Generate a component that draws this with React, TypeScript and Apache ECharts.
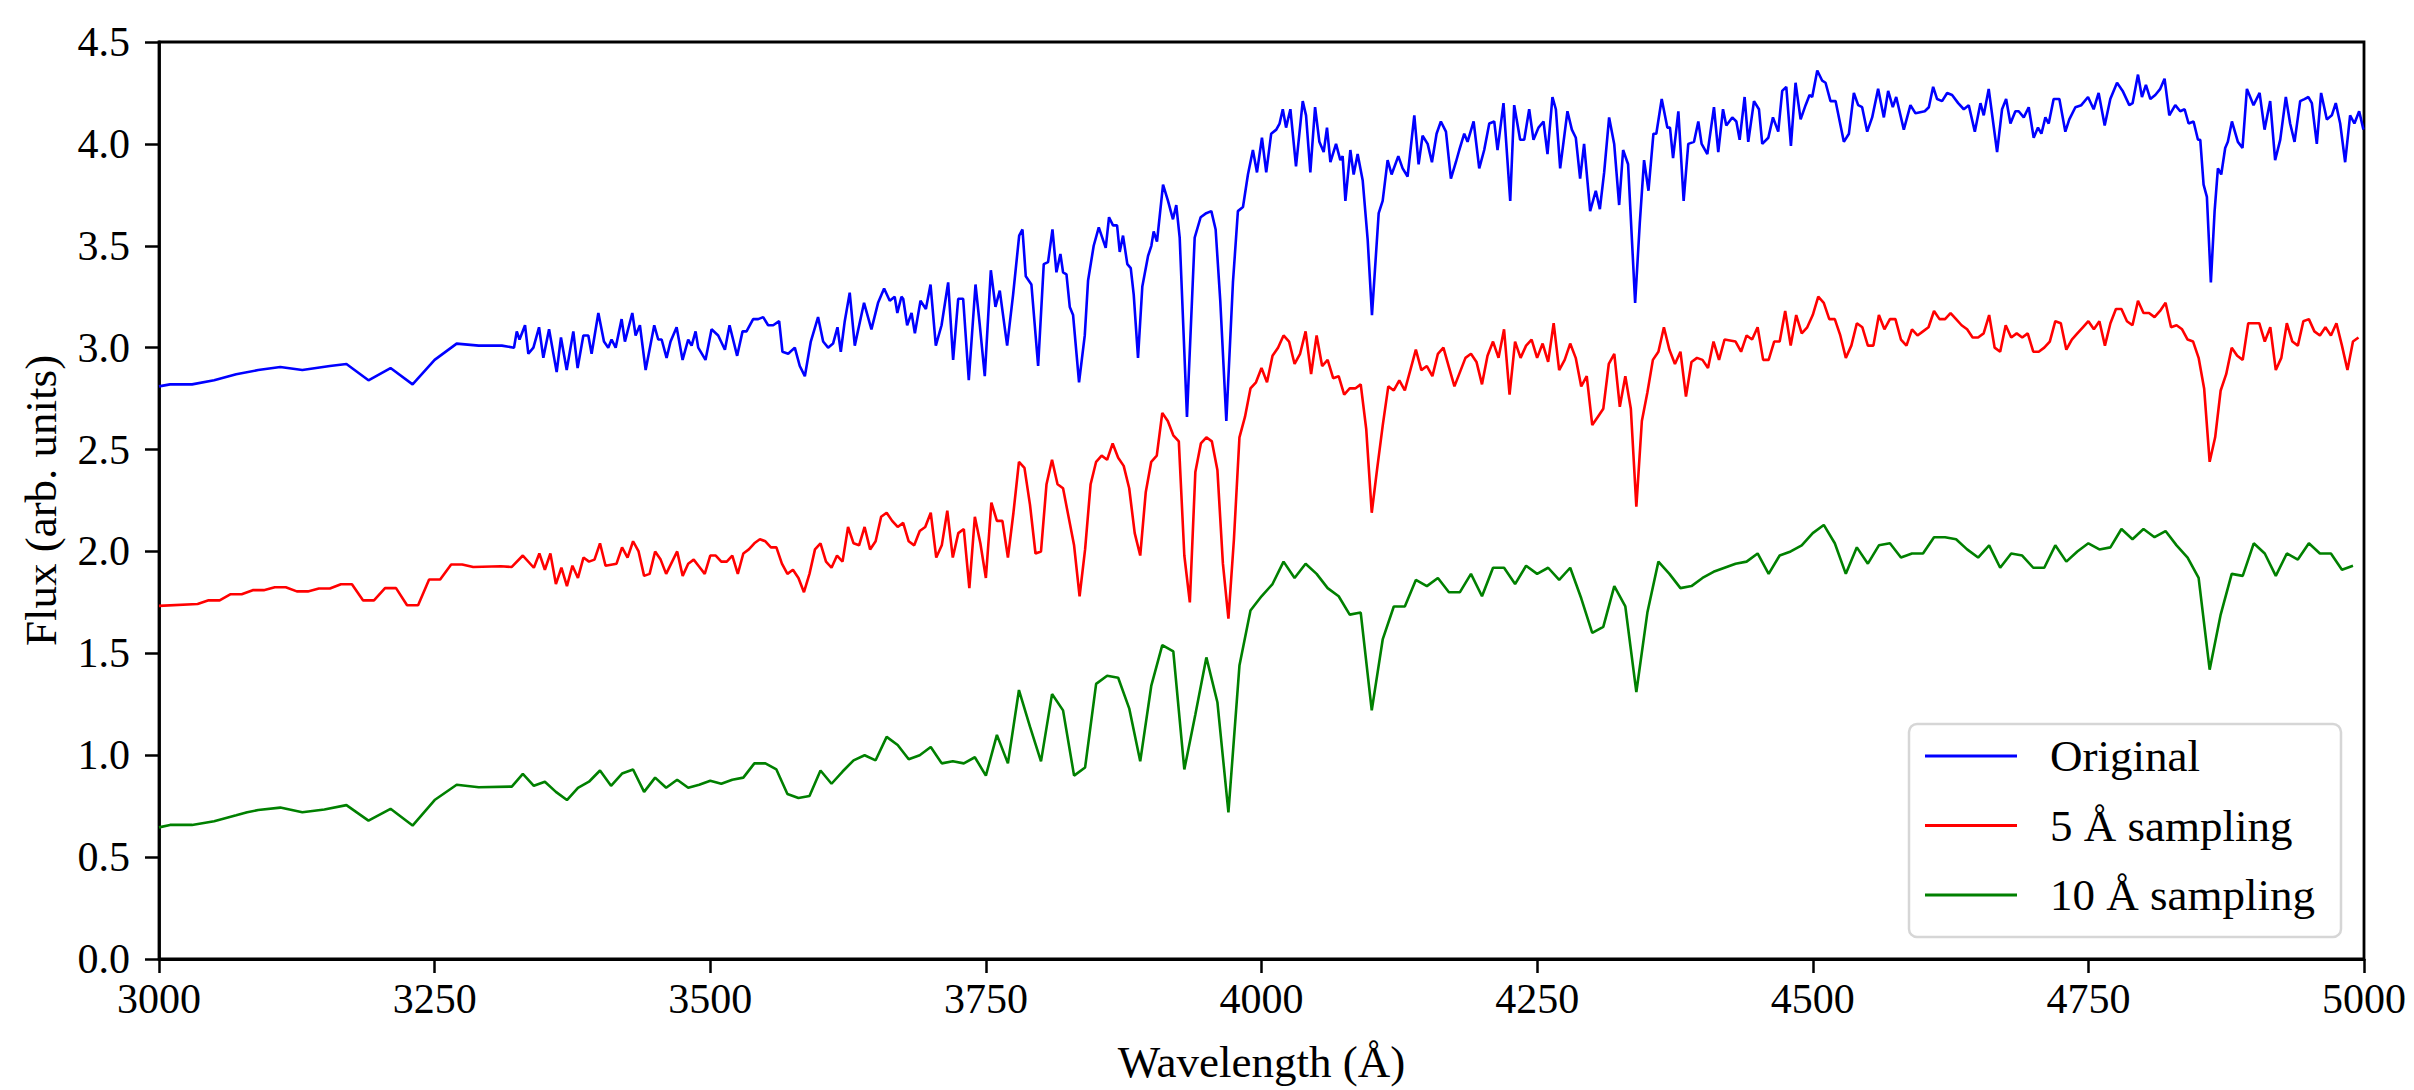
import React, { useEffect, useRef } from "react";
import * as echarts from "echarts";

// Original spectrum (wavelength in Å, flux in arb. units)
const origWave = [
  3000, 3010, 3030, 3050, 3070, 3090, 3110, 3130, 3155, 3170, 3190, 3210, 3230, 3250, 3270, 3290, 3311, 3322, 3324.5, 3327,
  3332, 3335, 3339.6, 3344.7, 3348.6, 3353.8, 3360.7, 3364.6, 3369.8, 3375.8, 3379.7, 3384.9, 3389.4, 3392.4, 3398.5, 3403.6, 3407.5, 3410.5, 3414.2, 3419.6,
  3422.6, 3429.3, 3432.3, 3436.2, 3441.4, 3449.2, 3452.8, 3455.9, 3460.4, 3464.0, 3469.5, 3474.9, 3480.0, 3483.1, 3486.7, 3489.1, 3495.7, 3501.2, 3507.2, 3513.3,
  3517.5, 3524.4, 3529.3, 3532.9, 3538.9, 3543.5, 3548.0, 3552.5, 3557.1, 3562.5, 3565.5, 3570.7, 3576.7, 3581.2, 3585.8, 3591.2, 3597.8, 3602.4, 3606.9, 3611.4,
  3615.4, 3618.4, 3622.0, 3626.5, 3631.1, 3639.5, 3646.2, 3652.2, 3657.7, 3662.8, 3667.3, 3669.7, 3673.4,
  3675.0, 3678.6, 3682.6, 3685.6, 3690.7, 3695.6, 3699.8, 3704.6, 3709.8, 3715.8, 3720.3, 3724.9, 3729.4, 3734.5, 3740.6, 3744.5, 3749.0, 3754.5, 3758.7, 3762.6,
  3769.3, 3774.7, 3780.2, 3783.2, 3786.2, 3791.3, 3797.4, 3802.5, 3806.4, 3810.4, 3814.0, 3817.6, 3820.0, 3823.1, 3826.1, 3829.1, 3834.5, 3839.7, 3842.7, 3847.8,
  3852.4, 3858.7, 3861.7, 3865.3, 3869.0, 3871.4, 3874.4, 3878.3, 3881.4, 3884.1, 3888.0, 3891.9, 3897.1, 3900.1, 3902.2, 3905.2, 3910.7, 3915.2, 3919.7, 3922.7,
  3925.8, 3932.4, 3939.4, 3944.8, 3949.9, 3954.5, 3958.4, 3962.6, 3968.1, 3974.1, 3978.6, 3983.2, 3987.7, 3992.2, 3995.9, 4000.4, 4004.3, 4008.8, 4013.4, 4016.4,
  4019.3, 4022.3, 4026.2, 4031.3, 4037.4, 4040.4, 4044.3, 4048.6, 4052.5, 4056.4, 4059.4, 4062.5, 4067.6, 4071.5, 4073.6, 4076.1, 4080.6, 4083.6, 4087.2, 4091.8,
  4096.3, 4100.2, 4106.3, 4109.9, 4114.4, 4118.0, 4124.1, 4128.0, 4132.5, 4138.6, 4142.5, 4146.1, 4150.7, 4154.6, 4158.8, 4162.7, 4167.3, 4171.8, 4176.3, 4179.4,
  4183.9, 4186.9, 4192.4, 4197.5, 4202.0, 4206.6, 4211.1, 4214.1, 4219.5, 4225.6, 4229.2, 4234.6, 4238.3, 4242.8, 4246.7, 4251.3, 4255.8, 4259.4, 4263.9, 4267.0,
  4270.9, 4277.5, 4281.5, 4285.1, 4289.0, 4292.6, 4298.1, 4303.2, 4306.9, 4310.8, 4315.3, 4319.9, 4324.4, 4328.0, 4332.5, 4338.9, 4343.1, 4347.0, 4351.0, 4355.5,
  4358.1, 4363.0, 4368.1, 4370.5, 4373.3, 4378.1, 4382.9, 4387.1, 4392.3, 4396.2, 4399.2, 4404.4, 4410.4, 4414.3, 4418.6, 4421.6, 4427.0, 4430.7, 4433.7, 4438.2,
  4441.5, 4446.7, 4451.2, 4454.2, 4459.7, 4463.9, 4468.7, 4472.3, 4476.0, 4480.2, 4484.4, 4489.0, 4493.5, 4497.1, 4499.5, 4504.1, 4508.6, 4511.6, 4516.1, 4520.7,
  4528.2, 4532.8, 4537.3, 4541.2, 4544.8, 4549.4, 4553.9, 4559.3, 4564.5, 4568.4, 4572.6, 4575.7, 4582.6, 4588.6, 4593.2, 4601.6, 4605.3, 4609.2, 4612.8, 4617.3,
  4621.9, 4626.4, 4631.9, 4637.0, 4641.5, 4647.0, 4652.1, 4655.1, 4659.6, 4667.2, 4671.7, 4675.4, 4679.3, 4683.8, 4686.8, 4691.4, 4695.9,
  4700.4, 4704.3, 4707.4, 4711.0, 4714.0, 4718.5, 4723.7, 4729.1, 4732.7, 4738.2, 4743.6, 4749.7, 4754.8, 4759.3, 4764.8, 4769.9, 4776.0, 4781.1, 4787.1, 4790.1,
  4795.0, 4798.6, 4802.2, 4806.2, 4810.7, 4815.2, 4819.1, 4823.4, 4828.8, 4833.3, 4837.3, 4840.9, 4845.4, 4849.4, 4851.5, 4854.5, 4857.5, 4861.1, 4864.5, 4867.5,
  4870.5, 4874.1, 4876.5, 4880.2, 4885.6, 4889.8, 4893.8, 4899.8, 4905.3, 4909.8, 4914.9, 4919.4, 4924.0, 4929.1, 4933.0, 4937.0, 4942.1, 4946.0, 4949.6, 4952.7,
  4957.2, 4961.1, 4966.3, 4970.8, 4974.4, 4978.4, 4982.9, 4987.4, 4991.3, 4995.6, 4999.5,
];
const origFlux = [
  2.81, 2.82, 2.82, 2.84, 2.87, 2.89, 2.905, 2.89, 2.91, 2.92, 2.84, 2.9, 2.82, 2.94, 3.02, 3.01, 3.01, 3.0, 3.08, 3.04,
  3.11, 2.97, 3.0, 3.1, 2.95, 3.09, 2.88, 3.05, 2.89, 3.08, 2.9, 3.06, 3.06, 2.97, 3.17, 3.03, 3.0, 3.04, 3.0, 3.14,
  3.03, 3.17, 3.06, 3.11, 2.89, 3.11, 3.04, 3.04, 2.95, 3.03, 3.1, 2.94, 3.04, 3.01, 3.08, 3.0, 2.94, 3.09, 3.06, 2.99,
  3.11, 2.96, 3.08, 3.08, 3.14, 3.14, 3.15, 3.11, 3.11, 3.13, 2.98, 2.97, 3.0, 2.91, 2.86, 3.03, 3.15, 3.03, 3.0, 3.02,
  3.1, 2.98, 3.13, 3.27, 3.01, 3.22, 3.09, 3.22, 3.29, 3.23, 3.25, 3.17, 3.25,
  3.24, 3.11, 3.17, 3.07, 3.23, 3.19, 3.31, 3.01, 3.11, 3.32, 2.94, 3.24, 3.24, 2.84, 3.31, 3.11, 2.86, 3.38, 3.2, 3.28,
  3.01, 3.26, 3.55, 3.58, 3.35, 3.31, 2.91, 3.41, 3.42, 3.58, 3.37, 3.46, 3.37, 3.36, 3.2, 3.16, 2.83, 3.06, 3.33, 3.5,
  3.59, 3.49, 3.64, 3.6, 3.6, 3.47, 3.55, 3.41, 3.39, 3.26, 2.95, 3.3, 3.45, 3.5, 3.57, 3.52, 3.8, 3.72, 3.63, 3.7,
  3.54, 2.66, 3.54, 3.64, 3.66, 3.67, 3.58, 3.23, 2.64, 3.32, 3.67, 3.69, 3.85, 3.97, 3.86, 4.03, 3.86, 4.05, 4.07, 4.1,
  4.17, 4.08, 4.17, 3.89, 4.21, 4.14, 3.86, 4.18, 4.01, 3.96, 4.08, 3.91, 4.0, 3.92, 3.94, 3.72, 3.97, 3.85, 3.95, 3.82,
  3.53, 3.16, 3.66, 3.72, 3.92, 3.85, 3.94, 3.88, 3.84, 4.14, 3.9, 4.04, 4.0, 3.91, 4.05, 4.11, 4.06, 3.83, 3.91, 3.97,
  4.05, 4.01, 4.11, 3.88, 3.97, 4.1, 4.11, 3.97, 4.2, 3.72, 4.19, 4.02, 4.02, 4.17, 4.02, 4.08, 4.11, 3.95, 4.23, 4.17,
  3.88, 4.16, 4.07, 4.03, 3.83, 4.0, 3.67, 3.77, 3.68, 3.86, 4.13, 4.0, 3.7, 3.97, 3.9, 3.22, 3.61, 3.92, 3.77, 4.05,
  4.05, 4.22, 4.08, 4.08, 3.93, 4.16, 3.72, 4.0, 4.01, 4.11, 4.0, 3.95, 4.18, 3.96, 4.17, 4.09, 4.13, 4.11, 4.02, 4.23,
  4.01, 4.21, 4.17, 4.0, 4.03, 4.13, 4.06, 4.26, 4.28, 3.99, 4.3, 4.12, 4.19, 4.24, 4.23, 4.36, 4.31, 4.3, 4.21, 4.21,
  4.01, 4.05, 4.25, 4.19, 4.18, 4.06, 4.13, 4.27, 4.13, 4.26, 4.18, 4.23, 4.07, 4.19, 4.15, 4.16, 4.18, 4.28, 4.22, 4.21,
  4.25, 4.24, 4.2, 4.17, 4.19, 4.06, 4.2, 4.14, 4.27, 3.96, 4.17, 4.22, 4.1, 4.16, 4.16, 4.13, 4.18,
  4.03, 4.08, 4.05, 4.13, 4.1, 4.22, 4.22, 4.06, 4.12, 4.18, 4.19, 4.23, 4.17, 4.25, 4.09, 4.22, 4.3, 4.26, 4.19, 4.2,
  4.34, 4.23, 4.29, 4.22, 4.24, 4.27, 4.32, 4.14, 4.19, 4.16, 4.17, 4.1, 4.11, 4.02, 4.02, 3.8, 3.74, 3.32, 3.67, 3.88,
  3.85, 3.98, 4.01, 4.11, 4.01, 3.98, 4.27, 4.19, 4.25, 4.07, 4.21, 3.92, 4.02, 4.23, 4.1, 4.01, 4.21, 4.22, 4.23, 4.2,
  4.0, 4.25, 4.12, 4.14, 4.2, 4.1, 3.91, 4.14, 4.1, 4.16, 4.07,
];

// 5 Å sampling
const s5Wave = [
  3000, 3035, 3045, 3055, 3065, 3075, 3085, 3095, 3105, 3115, 3125, 3135, 3145, 3155, 3165, 3175, 3185, 3195, 3205, 3215,
  3225, 3235, 3245, 3255, 3265, 3275, 3285, 3310, 3320, 3330,
  3340, 3345, 3350, 3355, 3360, 3365, 3370, 3375, 3380, 3385, 3390, 3395, 3400, 3405, 3410, 3415, 3420, 3425, 3430, 3435,
  3440, 3445, 3450, 3455, 3460, 3465, 3470, 3475, 3480, 3485, 3490, 3495, 3500, 3505, 3510, 3515, 3520, 3525, 3530, 3535,
  3540, 3545, 3550, 3555, 3560, 3565, 3570, 3575, 3580, 3585, 3590, 3595, 3600, 3605, 3610, 3615, 3620, 3625, 3630, 3635,
  3640, 3645, 3650, 3655, 3660, 3665, 3670, 3675, 3680, 3685, 3690, 3695, 3700, 3705, 3710, 3715, 3720, 3725, 3730, 3735,
  3740, 3745, 3750, 3755, 3760, 3765, 3770, 3775, 3780, 3785, 3790, 3795, 3800, 3805, 3810, 3815, 3820, 3825, 3830, 3835,
  3840, 3845, 3850, 3855, 3860, 3865, 3870, 3875, 3880, 3885, 3890, 3895, 3900, 3905, 3910, 3915, 3920, 3925, 3930, 3935,
  3940, 3945, 3950, 3955, 3960, 3965, 3970, 3975, 3980, 3985, 3990, 3995, 4000, 4005, 4010, 4015, 4020, 4025, 4030, 4035,
  4040, 4045, 4050, 4055, 4060, 4065, 4070, 4075, 4080, 4085, 4090, 4095, 4100, 4105, 4110, 4115, 4120, 4125, 4130, 4135,
  4140, 4145, 4150, 4155, 4160, 4165, 4170, 4175, 4180, 4185, 4190, 4195, 4200, 4205, 4210, 4215, 4220, 4225, 4230, 4235,
  4240, 4245, 4250, 4255, 4260, 4265, 4270, 4275, 4280, 4285, 4290, 4295, 4300, 4305, 4310, 4315, 4320, 4325, 4330, 4335,
  4340, 4345, 4350, 4355, 4360, 4365, 4370, 4375, 4380, 4385, 4390, 4395, 4400, 4405, 4410, 4415, 4420, 4425, 4430, 4435,
  4440, 4445, 4450, 4455, 4460, 4465, 4470, 4475, 4480, 4485, 4490, 4495, 4500, 4505, 4510, 4515, 4520, 4525, 4530, 4535,
  4540, 4545, 4550, 4555, 4560, 4565, 4570, 4575, 4580, 4585, 4590, 4595, 4600, 4605, 4610, 4615, 4620, 4625, 4630, 4635,
  4640, 4645, 4650, 4655, 4660, 4665, 4670, 4675, 4680, 4685, 4690, 4695, 4700, 4705, 4710, 4715, 4720, 4725, 4730, 4735,
  4740, 4745, 4750, 4755, 4760, 4765, 4770, 4775, 4780, 4785, 4790, 4795, 4800, 4805, 4810, 4815, 4820, 4825, 4830, 4835,
  4840, 4845, 4850, 4855, 4860, 4865, 4870, 4875, 4880, 4885, 4890, 4895, 4900, 4905, 4910, 4915, 4920, 4925, 4930, 4935,
  4940, 4945, 4950, 4955, 4960, 4965, 4970, 4975, 4980, 4985, 4990, 4995,
];
const s5Flux = [
  1.733, 1.742, 1.76, 1.76, 1.79, 1.79, 1.81, 1.81, 1.824, 1.824, 1.804, 1.804, 1.818, 1.818, 1.839, 1.839, 1.76, 1.76, 1.82, 1.82,
  1.736, 1.736, 1.862, 1.862, 1.936, 1.936, 1.924, 1.927, 1.924, 1.98,
  1.92, 1.99, 1.91, 1.99, 1.84, 1.92, 1.83, 1.93, 1.87, 1.97, 1.95, 1.96, 2.04, 1.93, 1.935, 1.94, 2.02, 1.97, 2.05, 2.0,
  1.88, 1.89, 2.0, 1.96, 1.89, 1.945, 2.0, 1.88, 1.94, 1.96, 1.925, 1.89, 1.98, 1.98, 1.95, 1.95, 1.98, 1.89, 1.99, 2.01,
  2.04, 2.06, 2.05, 2.02, 2.02, 1.94, 1.89, 1.91, 1.87, 1.8, 1.89, 2.01, 2.04, 1.95, 1.92, 1.98, 1.95, 2.12, 2.04, 2.03,
  2.12, 2.01, 2.05, 2.17, 2.19, 2.15, 2.12, 2.14, 2.05, 2.03, 2.1, 2.12, 2.19, 1.97, 2.03, 2.2, 1.97, 2.09, 2.11, 1.82,
  2.17, 2.04, 1.87, 2.24, 2.15, 2.15, 1.97, 2.19, 2.44, 2.41, 2.23, 1.99, 2.0, 2.33, 2.45, 2.33, 2.31, 2.17, 2.03, 1.78,
  2.01, 2.33, 2.44, 2.47, 2.45, 2.53, 2.46, 2.42, 2.31, 2.09, 1.98, 2.29, 2.44, 2.47, 2.68, 2.64, 2.57, 2.54, 1.98, 1.75,
  2.39, 2.53, 2.56, 2.54, 2.4, 1.94, 1.67, 2.06, 2.56, 2.66, 2.8, 2.83, 2.9, 2.83, 2.96, 3.0, 3.06, 3.03, 2.92, 2.97,
  3.08, 2.87, 3.06, 2.91, 2.94, 2.85, 2.86, 2.77, 2.8, 2.8, 2.82, 2.6, 2.19, 2.41, 2.62, 2.81, 2.79, 2.84, 2.79, 2.89,
  2.99, 2.89, 2.91, 2.86, 2.97, 3.0, 2.905, 2.81, 2.88, 2.95, 2.97, 2.93, 2.82, 2.96, 3.03, 2.95, 3.09, 2.77, 3.03, 2.95,
  3.01, 3.04, 2.95, 3.02, 2.93, 3.12, 2.89, 2.94, 3.02, 2.95, 2.81, 2.86, 2.62, 2.66, 2.7, 2.92, 2.97, 2.71, 2.86, 2.7,
  2.22, 2.64, 2.78, 2.94, 2.98, 3.1, 2.99, 2.92, 2.98, 2.76, 2.93, 2.95, 2.94, 2.9, 3.03, 2.94, 3.04, 3.035, 3.03, 2.98,
  3.06, 3.04, 3.1, 2.94, 2.94, 3.03, 3.03, 3.18, 3.01, 3.16, 3.07, 3.1, 3.16, 3.25, 3.22, 3.14, 3.14, 3.06, 2.95, 3.01,
  3.12, 3.1, 3.01, 3.01, 3.16, 3.09, 3.14, 3.14, 3.04, 3.01, 3.09, 3.06, 3.08, 3.1, 3.18, 3.14, 3.14, 3.17, 3.14, 3.11,
  3.09, 3.05, 3.05, 3.07, 3.16, 3.0, 2.98, 3.11, 3.05, 3.07, 3.05, 3.07, 2.98, 2.98, 3.0, 3.03, 3.13, 3.12, 2.99, 3.04,
  3.07, 3.1, 3.13, 3.09, 3.13, 3.01, 3.12, 3.19, 3.19, 3.13, 3.11, 3.23, 3.17, 3.17, 3.15, 3.18, 3.22, 3.1, 3.11, 3.09,
  3.04, 3.03, 2.95, 2.8, 2.44, 2.56, 2.79, 2.87, 3.0, 2.96, 2.94, 3.12, 3.12, 3.12, 3.03, 3.1, 2.89, 2.95, 3.12, 3.03,
  3.01, 3.13, 3.14, 3.08, 3.06, 3.1, 3.06, 3.12, 3.01, 2.89, 3.03, 3.05,
];

// 10 Å sampling
const s10Wave = [
  3000, 3010, 3030, 3050, 3070, 3080, 3090, 3110, 3130, 3150, 3170, 3190, 3210, 3230, 3250, 3270, 3290, 3320, 3330,
  3340, 3350, 3360, 3370, 3380, 3390, 3400, 3410, 3420, 3430, 3440, 3450, 3460, 3470, 3480, 3490, 3500, 3510, 3520, 3530,
  3540, 3550, 3560, 3570, 3580, 3590, 3600, 3610, 3620, 3630, 3640, 3650, 3660, 3670, 3680, 3690, 3700, 3710, 3720, 3730,
  3740, 3750, 3760, 3770, 3780, 3790, 3800, 3810, 3820, 3830, 3840, 3850, 3860, 3870, 3880, 3890, 3900, 3910, 3920, 3930,
  3940, 3950, 3960, 3970, 3980, 3990, 4000, 4010, 4020, 4030, 4040, 4050, 4060, 4070, 4080, 4090, 4100, 4110, 4120, 4130,
  4140, 4150, 4160, 4170, 4180, 4190, 4200, 4210, 4220, 4230, 4240, 4250, 4260, 4270, 4280, 4290, 4300, 4310, 4320, 4330,
  4340, 4350, 4360, 4370, 4380, 4390, 4400, 4410, 4420, 4430, 4440, 4450, 4460, 4470, 4480, 4490, 4500, 4510, 4520, 4530,
  4540, 4550, 4560, 4570, 4580, 4590, 4600, 4610, 4620, 4630, 4640, 4650, 4660, 4670, 4680, 4690, 4700, 4710, 4720, 4730,
  4740, 4750, 4760, 4770, 4780, 4790, 4800, 4810, 4820, 4830, 4840, 4850, 4860, 4870, 4880, 4890, 4900, 4910, 4920, 4930,
  4940, 4950, 4960, 4970, 4980, 4990,
];
const s10Flux = [
  0.646, 0.658, 0.658, 0.676, 0.705, 0.72, 0.731, 0.743, 0.72, 0.734, 0.755, 0.679, 0.737, 0.655, 0.78, 0.855, 0.843, 0.846, 0.908,
  0.85, 0.87, 0.82, 0.78, 0.84, 0.87, 0.925, 0.85, 0.91, 0.93, 0.82, 0.89, 0.84, 0.88, 0.84, 0.855, 0.875, 0.86, 0.88, 0.89,
  0.96, 0.96, 0.93, 0.81, 0.79, 0.8, 0.925, 0.86, 0.92, 0.975, 1.0, 0.975, 1.09, 1.05, 0.98, 1.0, 1.04, 0.96, 0.97, 0.96,
  0.99, 0.9, 1.1, 0.96, 1.32, 1.14, 0.97, 1.3, 1.22, 0.9, 0.94, 1.35, 1.39, 1.38, 1.23, 0.97, 1.34, 1.54, 1.51, 0.93,
  1.2, 1.48, 1.26, 0.72, 1.44, 1.71, 1.78, 1.84, 1.95, 1.87, 1.94, 1.89, 1.82, 1.78, 1.69, 1.7, 1.22, 1.57, 1.73, 1.73,
  1.86, 1.83, 1.87, 1.8, 1.8, 1.89, 1.78, 1.92, 1.92, 1.84, 1.93, 1.89, 1.92, 1.86, 1.92, 1.77, 1.6, 1.63, 1.83, 1.73,
  1.31, 1.7, 1.95, 1.89, 1.82, 1.83, 1.87, 1.9, 1.92, 1.94, 1.95, 1.99, 1.89, 1.98, 2.0, 2.03, 2.09, 2.13, 2.04, 1.89,
  2.02, 1.94, 2.03, 2.04, 1.97, 1.99, 1.99, 2.07, 2.07, 2.06, 2.01, 1.97, 2.03, 1.92, 1.99, 1.98, 1.92, 1.92, 2.03, 1.95,
  2.0, 2.04, 2.01, 2.02, 2.11, 2.06, 2.11, 2.07, 2.1, 2.03, 1.97, 1.87, 1.42, 1.69, 1.89, 1.88, 2.04, 1.99, 1.88, 1.99,
  1.96, 2.04, 1.99, 1.99, 1.91, 1.93,
];

const seriesNames = ["Original", "5 Å sampling", "10 Å sampling"];
const seriesColors = ["#0000ff", "#ff0000", "#008000"];

const FONT = "Liberation Serif, DejaVu Serif, serif";

function pairs(w: number[], f: number[]) {
  const n = Math.min(w.length, f.length);
  const out: number[][] = [];
  for (let i = 0; i < n; i++) out.push([w[i], f[i]]);
  return out;
}

export default function App() {
  const ref = useRef<HTMLDivElement>(null);
  useEffect(() => {
    document.body.style.margin = "0";
    const chart = echarts.init(ref.current!, null, { renderer: "svg", width: 2414, height: 1090 });
    const datasets = [pairs(origWave, origFlux), pairs(s5Wave, s5Flux), pairs(s10Wave, s10Flux)];
    chart.setOption({
      animation: false,
      backgroundColor: "#ffffff",
      textStyle: { fontFamily: FONT },
      grid: {
        left: 159,
        right: 50,
        top: 42,
        bottom: 131,
        show: true,
        borderColor: "#000",
        borderWidth: 2.8,
        backgroundColor: "transparent",
      },
      legend: {
        orient: "vertical",
        left: 1909,
        top: 724,
        data: seriesNames,
        icon: "rect",
        itemWidth: 92,
        itemHeight: 3,
        itemGap: 19.5,
        padding: [7, 26, 17, 16],
        borderColor: "#d6d6d6",
        borderWidth: 2.5,
        borderRadius: 8,
        backgroundColor: "#ffffff",
        selectedMode: false,
        textStyle: {
          fontFamily: FONT,
          fontSize: 45,
          color: "#000",
          lineHeight: 50,
          padding: [0, 0, 0, 28],
        },
      },
      xAxis: {
        type: "value",
        min: 3000,
        max: 5000,
        interval: 250,
        name: "Wavelength (Å)",
        nameLocation: "middle",
        nameGap: 80,
        nameTextStyle: { fontFamily: FONT, fontSize: 45, color: "#000" },
        axisLine: { show: true, lineStyle: { color: "#000", width: 2.8 } },
        axisTick: { show: true, inside: false, length: 14, lineStyle: { color: "#000", width: 2.5 } },
        axisLabel: {
          fontFamily: FONT,
          fontSize: 42,
          color: "#000",
          margin: 19,
          formatter: (v: number) => String(Math.round(v)),
        },
        splitLine: { show: false },
      },
      yAxis: {
        type: "value",
        min: 0,
        max: 4.5,
        interval: 0.5,
        name: "Flux (arb. units)",
        nameLocation: "middle",
        nameRotate: 90,
        nameGap: 96,
        nameTextStyle: { fontFamily: FONT, fontSize: 45, color: "#000" },
        axisLine: { show: true, lineStyle: { color: "#000", width: 2.8 } },
        axisTick: { show: true, inside: false, length: 14, lineStyle: { color: "#000", width: 2.5 } },
        axisLabel: {
          fontFamily: FONT,
          fontSize: 42,
          color: "#000",
          margin: 29,
          formatter: (v: number) => v.toFixed(1),
        },
        splitLine: { show: false },
      },
      series: datasets.map((d, i) => ({
        name: seriesNames[i],
        type: "line",
        data: d,
        showSymbol: false,
        symbol: "none",
        color: seriesColors[i],
        lineStyle: { color: seriesColors[i], width: 2.6 },
        clip: true,
      })),
    });
    return () => chart.dispose();
  }, []);
  return <div ref={ref} style={{ width: 2414, height: 1090 }} />;
}
